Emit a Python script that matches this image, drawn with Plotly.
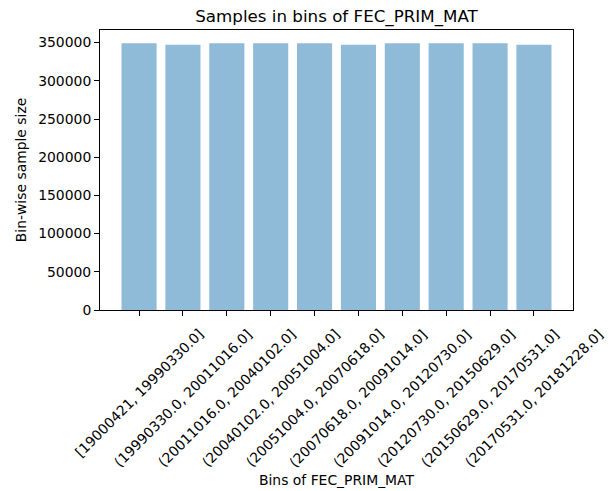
import plotly.graph_objects as go

# Bin labels for FEC_PRIM_MAT and the number of samples falling in each bin
bins = [
    "[19000421, 19990330.0]",
    "(19990330.0, 20011016.0]",
    "(20011016.0, 20040102.0]",
    "(20040102.0, 20051004.0]",
    "(20051004.0, 20070618.0]",
    "(20070618.0, 20091014.0]",
    "(20091014.0, 20120730.0]",
    "(20120730.0, 20150629.0]",
    "(20150629.0, 20170531.0]",
    "(20170531.0, 20181228.0]",
]
sample_sizes = [349000, 347300, 349000, 349000, 349000, 347300, 349000, 349000, 349000, 347300]
y_ticks = [0, 50000, 100000, 150000, 200000, 250000, 300000, 350000]

FONT = "DejaVu Sans"
W, H = 612, 491
L, R, T, B = 100, 39, 30, 181

fig = go.Figure(
    go.Bar(
        x=list(range(len(bins))),
        y=sample_sizes,
        width=0.8,
        marker=dict(color="rgba(31,119,180,0.5)", line=dict(width=0)),
        hovertext=bins,
    )
)

# Rotated bin labels, centred under each tick
for i, label in enumerate(bins):
    fig.add_annotation(
        x=i, xref="x",
        y=0, yref="y domain", yshift=-13,
        text=label, textangle=-45,
        showarrow=False, xanchor="center", yanchor="top",
        font=dict(family=FONT, size=13.9, color="black"),
    )

axis_common = dict(
    showline=True, linecolor="black", linewidth=1, mirror=True,
    ticks="outside", ticklen=5, tickwidth=1, tickcolor="black",
    showgrid=False, zeroline=False, automargin=False,
)

fig.update_layout(
    width=W, height=H,
    margin=dict(l=L, r=R, t=T, b=B),
    paper_bgcolor="white", plot_bgcolor="white",
    showlegend=False,
    font=dict(family=FONT, size=13.9, color="black"),
    title=dict(
        text="Samples in bins of FEC_PRIM_MAT",
        x=(L + (W - R)) / 2 / W, xanchor="center",
        y=1 - 16 / H, yanchor="middle",
        font=dict(family=FONT, size=16.7, color="black"),
    ),
    xaxis=dict(
        range=[-0.89, 9.89],
        tickvals=list(range(len(bins))),
        showticklabels=False,
        title=dict(text="Bins of FEC_PRIM_MAT", standoff=160,
                   font=dict(family=FONT, size=13.9)),
        **axis_common,
    ),
    yaxis=dict(
        range=[0, 366500],
        tickvals=y_ticks,
        ticktext=[str(v) for v in y_ticks],
        tickfont=dict(family=FONT, size=13.9),
        title=dict(text="Bin-wise sample size", standoff=8,
                   font=dict(family=FONT, size=13.9)),
        **axis_common,
    ),
)

fig.write_html("out.html")
